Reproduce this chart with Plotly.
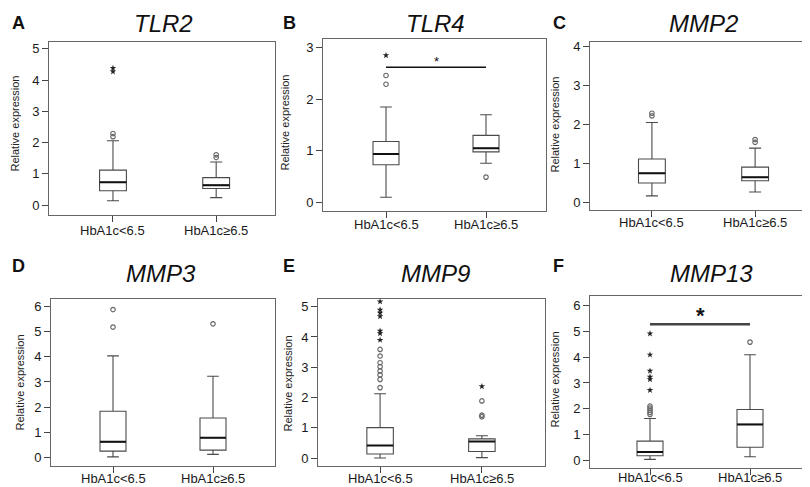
import plotly.graph_objects as go

W, H = 810, 487

categories = ["HbA1c<6.5", "HbA1c≥6.5"]
genes = ["TLR2", "TLR4", "MMP2", "MMP3", "MMP9", "MMP13"]
panel_letters = ["A", "B", "C", "D", "E", "F"]

q1 = {"TLR2": [0.46, 0.53], "TLR4": [0.73, 0.98], "MMP2": [0.49, 0.55],
      "MMP3": [0.24, 0.28], "MMP9": [0.14, 0.22], "MMP13": [0.17, 0.50]}
median = {"TLR2": [0.73, 0.64], "TLR4": [0.94, 1.05], "MMP2": [0.74, 0.64],
          "MMP3": [0.61, 0.77], "MMP9": [0.42, 0.55], "MMP13": [0.32, 1.39]}
q3 = {"TLR2": [1.12, 0.88], "TLR4": [1.18, 1.30], "MMP2": [1.11, 0.90],
      "MMP3": [1.83, 1.56], "MMP9": [1.01, 0.64], "MMP13": [0.74, 1.97]}
lower_whisker = {"TLR2": [0.14, 0.24], "TLR4": [0.10, 0.76], "MMP2": [0.16, 0.26],
                 "MMP3": [0.01, 0.11], "MMP9": [0.01, 0.02], "MMP13": [0.03, 0.13]}
upper_whisker = {"TLR2": [2.06, 1.38], "TLR4": [1.85, 1.70], "MMP2": [2.05, 1.39],
                 "MMP3": [4.04, 3.23], "MMP9": [2.13, 0.74], "MMP13": [1.62, 4.10]}

# outliers per group: [group0 list, group1 list]
outlier_circles = {
    "TLR2": [[2.19, 2.29], [1.52, 1.61]],
    "TLR4": [[2.29, 2.46], [0.49]],
    "MMP2": [[2.22, 2.29], [1.54, 1.61]],
    "MMP3": [[5.19, 5.89], [5.32]],
    "MMP9": [[2.33, 2.60, 2.75, 2.88, 3.02, 3.15, 3.37, 3.59], [1.37, 1.42, 1.89]],
    "MMP13": [[1.78, 1.86, 1.94, 2.02, 2.10], [4.59]],
}
outlier_stars = {
    "TLR2": [[4.27, 4.38], []],
    "TLR4": [[2.85], []],
    "MMP2": [[], []],
    "MMP3": [[], []],
    "MMP9": [[3.90, 4.12, 4.20, 4.68, 4.80, 4.90, 5.17], [2.37]],
    "MMP13": [[2.72, 3.14, 3.24, 3.47, 4.10, 4.92], []],
}

y_ticks = {"TLR2": [0, 1, 2, 3, 4, 5], "TLR4": [0, 1, 2, 3], "MMP2": [0, 1, 2, 3, 4],
           "MMP3": [0, 1, 2, 3, 4, 5, 6], "MMP9": [0, 1, 2, 3, 4, 5], "MMP13": [0, 1, 2, 3, 4, 5, 6]}
y_ranges = {"TLR2": [-0.32, 5.22], "TLR4": [-0.17, 3.17], "MMP2": [-0.21, 4.13],
            "MMP3": [-0.36, 6.32], "MMP9": [-0.26, 5.26], "MMP13": [-0.31, 6.39]}
x_ranges = {"TLR2": [-0.62, 1.57], "TLR4": [-0.63, 1.60], "MMP2": [-0.60, 1.59],
            "MMP3": [-0.62, 1.62], "MMP9": [-0.61, 1.62], "MMP13": [-0.60, 1.65]}

significance = {"TLR4": 2.62, "MMP13": 5.28}

# layout (pixel frames)
frames = {"TLR2": (41, 267, 32, 206), "TLR4": (315, 538, 29, 202), "MMP2": (582, 808, 32, 201),
          "MMP3": (43, 267, 290, 458), "MMP9": (310, 537, 290, 458), "MMP13": (582, 807, 287, 460)}
xlabel_y = {"TLR2": 221, "TLR4": 215, "MMP2": 213, "MMP3": 470, "MMP9": 470, "MMP13": 469}
title_pos = {"TLR2": (155, 14), "TLR4": (427, 14), "MMP2": (695, 14),
             "MMP3": (153, 265), "MMP9": (428, 265), "MMP13": (703, 265)}
letter_pos = {"TLR2": (2, 13), "TLR4": (273, 13), "MMP2": (543, 13),
              "MMP3": (2, 257), "MMP9": (273, 257), "MMP13": (543, 257)}
ytitle_pos = {"TLR2": (7, 114), "TLR4": (277, 113), "MMP2": (547, 115),
              "MMP3": (12, 374), "MMP9": (280, 375), "MMP13": (547, 371)}

FONT = "Liberation Sans, Arial, sans-serif"
BOX_W = 0.26

fig = go.Figure()
annotations = []

for i, g in enumerate(genes):
    n = i + 1
    xa = "x" if n == 1 else f"x{n}"
    ya = "y" if n == 1 else f"y{n}"
    xs = [0, 1]
    fig.add_trace(go.Box(
        x=xs, q1=q1[g], median=median[g], q3=q3[g],
        lowerfence=lower_whisker[g], upperfence=upper_whisker[g],
        width=BOX_W, whiskerwidth=0.45, fillcolor="white",
        line=dict(color="#4a4a4a", width=1.1), boxpoints=False,
        xaxis=xa, yaxis=ya, showlegend=False, hoverinfo="skip"))
    # thick median lines
    mx, my = [], []
    for k in range(2):
        mx += [xs[k] - BOX_W / 2, xs[k] + BOX_W / 2, None]
        my += [median[g][k], median[g][k], None]
    fig.add_trace(go.Scatter(x=mx, y=my, mode="lines", line=dict(color="#111", width=2),
                             xaxis=xa, yaxis=ya, showlegend=False, hoverinfo="skip"))
    # outliers
    cx, cy, sx, sy = [], [], [], []
    for k in range(2):
        cx += [xs[k]] * len(outlier_circles[g][k]); cy += outlier_circles[g][k]
        sx += [xs[k]] * len(outlier_stars[g][k]); sy += outlier_stars[g][k]
    fig.add_trace(go.Scatter(x=cx, y=cy, mode="markers",
                             marker=dict(symbol="circle-open", size=4.5, color="#6a6a6a", line=dict(width=1.2)),
                             xaxis=xa, yaxis=ya, showlegend=False, hoverinfo="skip"))
    fig.add_trace(go.Scatter(x=sx, y=sy, mode="markers",
                             marker=dict(symbol="star", size=5, color="#222"),
                             xaxis=xa, yaxis=ya, showlegend=False, hoverinfo="skip"))

    l, r, t, b = frames[g]
    fig.update_layout(**{
        ("xaxis" if n == 1 else f"xaxis{n}"): dict(
            domain=[l / W, r / W], range=x_ranges[g], tickvals=xs, showticklabels=False,
            ticks="outside", ticklen=6, tickcolor="#444", showline=True, mirror=True,
            linecolor="#666", linewidth=1, showgrid=False, zeroline=False, anchor=ya),
        ("yaxis" if n == 1 else f"yaxis{n}"): dict(
            domain=[1 - b / H, 1 - t / H], range=y_ranges[g], tickvals=y_ticks[g],
            ticks="outside", ticklen=6, tickcolor="#444", showline=True, mirror=True,
            linecolor="#666", linewidth=1, showgrid=False, zeroline=False, anchor=xa,
            tickfont=dict(family=FONT, size=13, color="#1a1a1a")),
    })

    # category labels
    for k in range(2):
        annotations.append(dict(x=xs[k], xref=xa, y=1 - xlabel_y[g] / H, yref="paper",
                                text=categories[k], showarrow=False, xanchor="center",
                                yanchor="middle", font=dict(family=FONT, size=13, color="#1a1a1a")))

    # significance bar
    if g in significance:
        yv = significance[g]
        thick = g == "MMP13"
        fig.add_trace(go.Scatter(x=[xs[0], xs[1]], y=[yv, yv], mode="lines",
                                 line=dict(color="#444" if thick else "#111", width=2.5 if thick else 1.3),
                                 xaxis=xa, yaxis=ya, showlegend=False, hoverinfo="skip"))
        annotations.append(dict(x=0.5, y=yv, xref=xa, yref=ya, text="<b>*</b>" if thick else "*",
                                showarrow=False, yanchor="bottom", yshift=-6 if thick else -4,
                                font=dict(family=FONT, size=22 if thick else 13, color="#111")))

    tx, ty = title_pos[g]
    annotations.append(dict(x=tx / W, y=1 - ty / H, xref="paper", yref="paper", text=f"<i>{g}</i>",
                            showarrow=False, xanchor="center", yanchor="middle",
                            font=dict(family=FONT, size=24, color="#111")))
    lx, ly = letter_pos[g]
    annotations.append(dict(x=lx / W, y=1 - ly / H, xref="paper", yref="paper",
                            text=f"<b>{panel_letters[i]}</b>", showarrow=False,
                            xanchor="left", yanchor="middle",
                            font=dict(family=FONT, size=18, color="#111")))
    ax_, ay_ = ytitle_pos[g]
    annotations.append(dict(x=ax_ / W, y=1 - ay_ / H, xref="paper", yref="paper",
                            text="Relative expression", showarrow=False, textangle=-90,
                            xanchor="center", yanchor="middle",
                            font=dict(family=FONT, size=11, color="#222")))

fig.update_layout(width=W, height=H, margin=dict(l=0, r=0, t=0, b=0),
                  paper_bgcolor="white", plot_bgcolor="white",
                  annotations=annotations, boxmode="overlay")

fig.write_html("out.html")
